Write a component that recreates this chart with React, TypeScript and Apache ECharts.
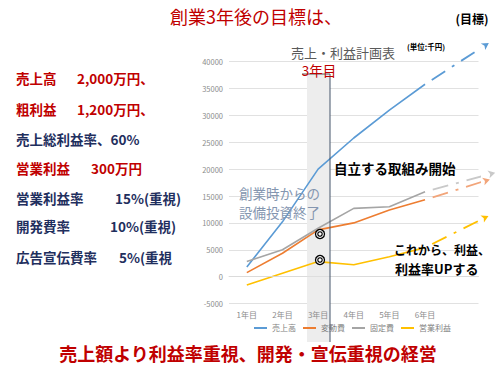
import React, { useEffect, useRef } from "react";
import * as echarts from "echarts";

const categories = ["1年目", "2年目", "3年目", "4年目", "5年目", "6年目", ""];
const seriesNames = ["売上高", "変動費", "固定費", "営業利益"];
const sales = [1800, 10200, 20000, 25800, 31000, 35800];
const variableCost = [750, 4350, 8700, 10000, 12400, 14300];
const fixedCost = [2800, 5000, 9000, 12700, 13000, 15800];
const operatingProfit = [-1550, 650, 2800, 2200, 3700, 5400];
// projected targets (x on a hidden value axis where 1 = 1年目)
const projectionX = [7.79, 7.82, 7.97, 7.78];
const projectionY = [43500, 18100, 19350, 11300];
const yTicks = { min: -5000, max: 40000, interval: 5000 };

const leftNotes = [
  { label: "売上高", value: "2,000万円、", red: true, vx: 77 },
  { label: "粗利益", value: "1,200万円、", red: true, vx: 77 },
  { label: "売上総利益率、60%", value: "", red: false, vx: 0 },
  { label: "営業利益", value: "300万円", red: true, vx: 91 },
  { label: "営業利益率", value: "15%(重視)", red: false, vx: 115 },
  { label: "開発費率", value: "10%(重視)", red: false, vx: 110 },
  { label: "広告宣伝費率", value: "5%(重視", red: false, vx: 119 },
];
const leftNoteY = [78, 109, 139, 168, 198, 226, 257];

const FONT = '"Noto Sans CJK JP", "Noto Sans", sans-serif';
const RED = "#c00000";
const NAVY = "#1f2f5e";
const COLORS = ["#5b9bd5", "#ed7d31", "#a5a5a5", "#ffc000"];
const PROJ_COLORS = ["#5b9bd5", "#f2a57a", "#c9c9c9", "#ffc000"];
const ARROW_ROT = [-56, -72, -75, -64];

function txt(text: string, x: number, y: number, o: any = {}) {
  return {
    type: "text",
    x,
    y,
    z: 10,
    style: {
      text,
      fill: o.fill || "#000",
      fontSize: o.fontSize || 13,
      fontWeight: o.fontWeight || "normal",
      fontFamily: FONT,
      align: o.align || "left",
      textAlign: o.align || "left",
      verticalAlign: "middle",
      textVerticalAlign: "middle",
    },
  };
}

export default function App() {
  const ref = useRef<HTMLDivElement>(null);
  useEffect(() => {
    if (!ref.current) return;
    const chart = echarts.init(ref.current, null, { renderer: "svg" });
    const mains = [sales, variableCost, fixedCost, operatingProfit];
    const series: any[] = mains.map((d, i) => ({
      name: seriesNames[i],
      type: "line",
      xAxisIndex: 0,
      yAxisIndex: 0,
      data: d,
      symbol: "none",
      lineStyle: { color: COLORS[i], width: 1.6 },
      itemStyle: { color: COLORS[i] },
      z: 3,
    }));
    mains.forEach((d, i) => {
      series.push({
        name: "proj" + i,
        type: "line",
        xAxisIndex: 1,
        yAxisIndex: 0,
        clip: false,
        data: [
          { value: [6, d[5]], symbol: "none" },
          {
            value: [projectionX[i], projectionY[i]],
            symbol: "arrow",
            symbolSize: [6, 7],
            symbolRotate: ARROW_ROT[i],
          },
        ],
        lineStyle: {
          color: PROJ_COLORS[i],
          width: 1.8,
          type: [16, 8, 3, 8],
          dashOffset: 27,
        },
        itemStyle: { color: PROJ_COLORS[i] },
        z: 3,
      });
    });

    const graphics: any[] = [
      {
        type: "rect",
        z: 1,
        shape: { x: 307, y: 74, width: 23, height: 268 },
        style: { fill: "#ededed" },
      },
      {
        type: "line",
        z: 5,
        shape: { x1: 330, y1: 74, x2: 330, y2: 342 },
        style: { stroke: "#44546a", lineWidth: 1 },
      },
      {
        type: "line",
        z: 5,
        shape: { x1: 302, y1: 74, x2: 330, y2: 74 },
        style: { stroke: "#595959", lineWidth: 1 },
      },
      txt("創業3年後の目標は、", 256, 16, { fill: RED, fontSize: 18, align: "center" }),
      txt("(目標)", 472, 18, { fontSize: 12, fontWeight: "bold", align: "center" }),
      txt("売上・利益計画表", 343, 52, { fill: "#595959", fontSize: 13, align: "center" }),
      txt("(単位:千円)", 426, 46, { fontSize: 7.5, fontWeight: "bold", align: "center" }),
      txt("3年目", 319, 70, { fill: RED, fontSize: 13.5, align: "center" }),
      txt("自立する取組み開始", 334, 168, { fontSize: 13.5, fontWeight: "bold" }),
      txt("創業時からの", 239, 193, { fill: "#8496b0", fontSize: 13.5 }),
      txt("設備投資終了", 239, 212, { fill: "#8496b0", fontSize: 13.5 }),
      txt("これから、利益、", 394, 249, { fontSize: 12, fontWeight: "bold" }),
      txt("利益率UPする", 395, 268, { fontSize: 13, fontWeight: "bold" }),
      txt("売上額より利益率重視、開発・宣伝重視の経営", 248, 353, {
        fill: RED,
        fontSize: 18,
        fontWeight: "bold",
        align: "center",
      }),
      {
        type: "circle",
        z: 6,
        shape: { cx: 320, cy: 234, r: 4.5 },
        style: { fill: "#fff", stroke: "#000", lineWidth: 1.3 },
      },
      {
        type: "circle",
        z: 6,
        shape: { cx: 320, cy: 234, r: 2.2 },
        style: { fill: "none", stroke: "#000", lineWidth: 1.2 },
      },
      {
        type: "circle",
        z: 6,
        shape: { cx: 320, cy: 260, r: 4.5 },
        style: { fill: "#fff", stroke: "#000", lineWidth: 1.3 },
      },
      {
        type: "circle",
        z: 6,
        shape: { cx: 320, cy: 260, r: 2.2 },
        style: { fill: "none", stroke: "#000", lineWidth: 1.2 },
      },
    ];
    leftNotes.forEach((n, i) => {
      const y = leftNoteY[i];
      graphics.push(
        txt(n.label, 16, y, { fill: n.red ? RED : NAVY, fontSize: 13.5, fontWeight: "bold" })
      );
      if (n.value)
        graphics.push(
          txt(n.value, n.vx, y, { fill: n.red ? RED : NAVY, fontSize: 13.5, fontWeight: "bold" })
        );
    });

    chart.setOption({
      animation: false,
      backgroundColor: "#fff",
      textStyle: { fontFamily: FONT },
      grid: { left: 229, right: 21.5, top: 61.7, bottom: 71.5, containLabel: false },
      legend: {
        data: seriesNames.map((name) => ({ name, icon: "rect" })),
        left: 249,
        top: 319,
        itemWidth: 13,
        itemHeight: 2,
        itemGap: 7,
        textStyle: { color: "#7f7f7f", fontSize: 8, fontFamily: FONT },
      },
      xAxis: [
        {
          type: "category",
          z: 4,
          data: categories,
          boundaryGap: true,
          axisTick: { show: false },
          axisLine: { show: true, onZero: true, lineStyle: { color: "#d9d9d9", width: 0.8 } },
          axisLabel: { color: "#8c8c8c", fontSize: 8, margin: 7 },
          splitLine: { show: false },
        },
        {
          type: "value",
          min: 0.5,
          max: 7.5,
          show: false,
          splitLine: { show: false },
        },
      ],
      yAxis: {
        type: "value",
        min: yTicks.min,
        max: yTicks.max,
        interval: yTicks.interval,
        axisLine: { show: false },
        axisTick: { show: false },
        axisLabel: {
          color: "#8c8c8c",
          fontSize: 7.5,
          margin: 6,
          formatter: (v: number) => String(v),
        },
        splitLine: { lineStyle: { color: "#d9d9d9", width: 0.8 } },
      },
      series,
      graphic: graphics,
    });
    return () => chart.dispose();
  }, []);
  return (
    <div
      ref={ref}
      style={{ position: "fixed", left: 0, top: 0, width: 500, height: 375 }}
    />
  );
}
